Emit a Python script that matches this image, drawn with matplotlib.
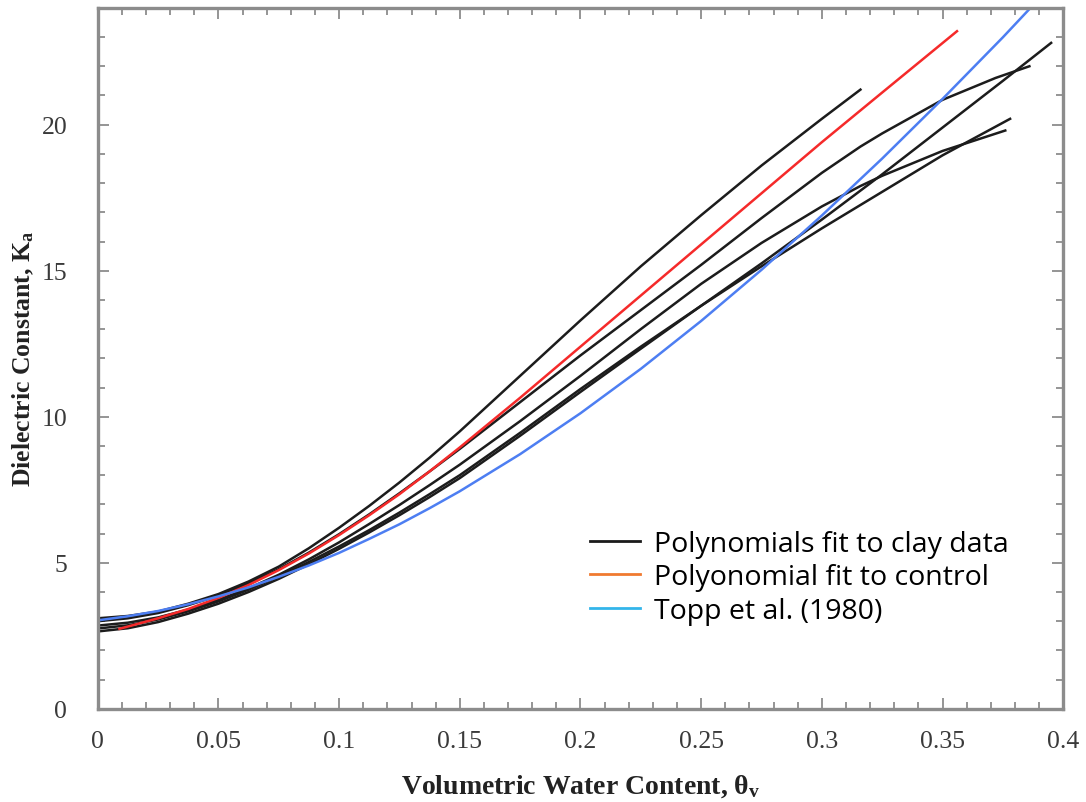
import matplotlib
matplotlib.use("Agg")
import matplotlib.pyplot as plt
from matplotlib.lines import Line2D
from matplotlib.ticker import MultipleLocator

# Volumetric water content (theta_v) vs apparent dielectric constant (Ka)
clay_a_x = [0.0, 0.0125, 0.025, 0.0375, 0.05, 0.0625, 0.075, 0.0875, 0.1, 0.1125, 0.125, 0.1375,
            0.15, 0.175, 0.2, 0.225, 0.25, 0.275, 0.3, 0.316]
clay_a_y = [3.1, 3.18, 3.33, 3.6, 3.93, 4.36, 4.87, 5.5, 6.2, 6.95, 7.75, 8.6,
            9.5, 11.4, 13.3, 15.15, 16.9, 18.6, 20.2, 21.2]

clay_c_x = [0.0, 0.0125, 0.025, 0.0375, 0.05, 0.0625, 0.075, 0.0875, 0.1, 0.1125, 0.125, 0.1375,
            0.15, 0.175, 0.2, 0.225, 0.25, 0.275, 0.3, 0.316, 0.325, 0.35, 0.372, 0.386]
clay_c_y = [3.0, 3.1, 3.28, 3.55, 3.88, 4.3, 4.78, 5.35, 5.98, 6.66, 7.38, 8.13,
            8.9, 10.5, 12.1, 13.65, 15.2, 16.8, 18.35, 19.25, 19.7, 20.85, 21.6, 22.0]

clay_f_x = [0.0, 0.0125, 0.025, 0.0375, 0.05, 0.0625, 0.075, 0.0875, 0.1, 0.1125, 0.125, 0.1375,
            0.15, 0.175, 0.2, 0.225, 0.25, 0.275, 0.3, 0.316, 0.325, 0.35, 0.376]
clay_f_y = [2.85, 2.95, 3.13, 3.4, 3.73, 4.13, 4.59, 5.12, 5.7, 6.33, 6.98, 7.66,
            8.36, 9.85, 11.4, 13.0, 14.55, 15.95, 17.2, 17.9, 18.25, 19.1, 19.8]

clay_d_x = [0.0, 0.0125, 0.025, 0.0375, 0.05, 0.0625, 0.075, 0.0875, 0.1, 0.1125, 0.125, 0.1375,
            0.15, 0.175, 0.2, 0.225, 0.25, 0.275, 0.3, 0.325, 0.35, 0.375, 0.395]
clay_d_y = [2.65, 2.76, 2.97, 3.26, 3.6, 4.0, 4.45, 4.95, 5.48, 6.04, 6.63, 7.25,
            7.9, 9.35, 10.85, 12.33, 13.8, 15.25, 16.75, 18.3, 19.9, 21.5, 22.8]

clay_e_x = [0.0, 0.0125, 0.025, 0.0375, 0.05, 0.0625, 0.075, 0.0875, 0.1, 0.1125, 0.125, 0.1375,
            0.15, 0.175, 0.2, 0.225, 0.25, 0.275, 0.3, 0.325, 0.35, 0.378]
clay_e_y = [2.75, 2.86, 3.06, 3.34, 3.68, 4.08, 4.53, 5.03, 5.56, 6.12, 6.72, 7.35,
            8.0, 9.45, 10.95, 12.4, 13.8, 15.15, 16.45, 17.7, 18.95, 20.2]

control_x = [0.009, 0.025, 0.0375, 0.05, 0.0625, 0.075, 0.0875, 0.1, 0.1125, 0.125, 0.1375,
             0.15, 0.175, 0.2, 0.225, 0.25, 0.275, 0.3, 0.325, 0.356]
control_y = [2.74, 3.1, 3.42, 3.8, 4.24, 4.75, 5.32, 5.95, 6.63, 7.35, 8.13,
             8.95, 10.65, 12.4, 14.15, 15.9, 17.65, 19.4, 21.1, 23.2]

topp_x = [0.0, 0.0125, 0.025, 0.0375, 0.05, 0.0625, 0.075, 0.0875, 0.1, 0.1125, 0.125, 0.1375,
          0.15, 0.175, 0.2, 0.225, 0.25, 0.275, 0.3, 0.325, 0.35, 0.375, 0.3875]
topp_y = [3.03, 3.17, 3.35, 3.58, 3.85, 4.16, 4.52, 4.91, 5.34, 5.82, 6.32, 6.87,
          7.45, 8.72, 10.12, 11.64, 13.28, 15.03, 16.89, 18.84, 20.88, 22.99, 24.09]

legend_labels = ["Polynomials fit to clay data", "Polyonomial fit to control", "Topp et al. (1980)"]
x_ticks = [0, 0.05, 0.1, 0.15, 0.2, 0.25, 0.3, 0.35, 0.4]
x_tick_labels = ["0", "0.05", "0.1", "0.15", "0.2", "0.25", "0.3", "0.35", "0.4"]
y_ticks = [0, 5, 10, 15, 20]

clay_curves = [(clay_a_x, clay_a_y), (clay_c_x, clay_c_y), (clay_f_x, clay_f_y),
               (clay_d_x, clay_d_y), (clay_e_x, clay_e_y)]

plt.rcParams["font.family"] = ["Liberation Serif", "DejaVu Serif"]
plt.rcParams["mathtext.fontset"] = "custom"
plt.rcParams["mathtext.rm"] = "Liberation Serif:bold"
plt.rcParams["mathtext.it"] = "Liberation Serif:bold"
plt.rcParams["mathtext.bf"] = "Liberation Serif:bold"

fig = plt.figure(figsize=(10.86, 8.03), dpi=100)
ax = fig.add_axes([0.090, 0.116, 0.889, 0.873])

for cx, cy in clay_curves:
    ax.plot(cx, cy, color="#1c1c1c", lw=1.8, solid_joinstyle="round")
ax.plot(control_x, control_y, color="#f52a2a", lw=1.8, solid_joinstyle="round")
ax.plot(topp_x, topp_y, color="#4d7ef2", lw=1.8, solid_joinstyle="round")

ax.set_xlim(0, 0.4)
ax.set_ylim(0, 24)

ax.set_xticks(x_ticks)
ax.set_xticklabels(x_tick_labels)
ax.set_yticks(y_ticks)
ax.xaxis.set_minor_locator(MultipleLocator(0.01))
ax.yaxis.set_minor_locator(MultipleLocator(1))

spine_col = "#8c8c8c"
for s in ax.spines.values():
    s.set_color(spine_col)
    s.set_linewidth(2.4)
ax.tick_params(which="both", direction="in", top=True, right=True, color=spine_col,
               labelcolor="#3a3a3a", labelsize=18.5, width=1.3)
ax.tick_params(which="major", length=8, pad=15)
ax.tick_params(which="minor", length=5)
ax.tick_params(axis="y", which="major", pad=22)

ax.set_xlabel("Volumetric Water Content, θ$_{v}$", fontsize=20, fontweight="bold",
              color="#222222", labelpad=15)
ax.set_ylabel("Dielectric Constant, K$_{a}$", fontsize=18.5, fontweight="bold",
              color="#222222", labelpad=4)

handles = [Line2D([], [], color="#1a1a1a", lw=2.0),
           Line2D([], [], color="#f07a30", lw=2.0),
           Line2D([], [], color="#33b5ea", lw=2.0)]
ax.legend(handles, legend_labels, loc="upper left", bbox_to_anchor=(0.498, 0.272),
          frameon=False, prop={"family": "Open Sans", "size": 20.5}, handlelength=1.75,
          handletextpad=0.5, labelspacing=0.2, borderaxespad=0)

fig.savefig("out.png", dpi=100, facecolor="white")
